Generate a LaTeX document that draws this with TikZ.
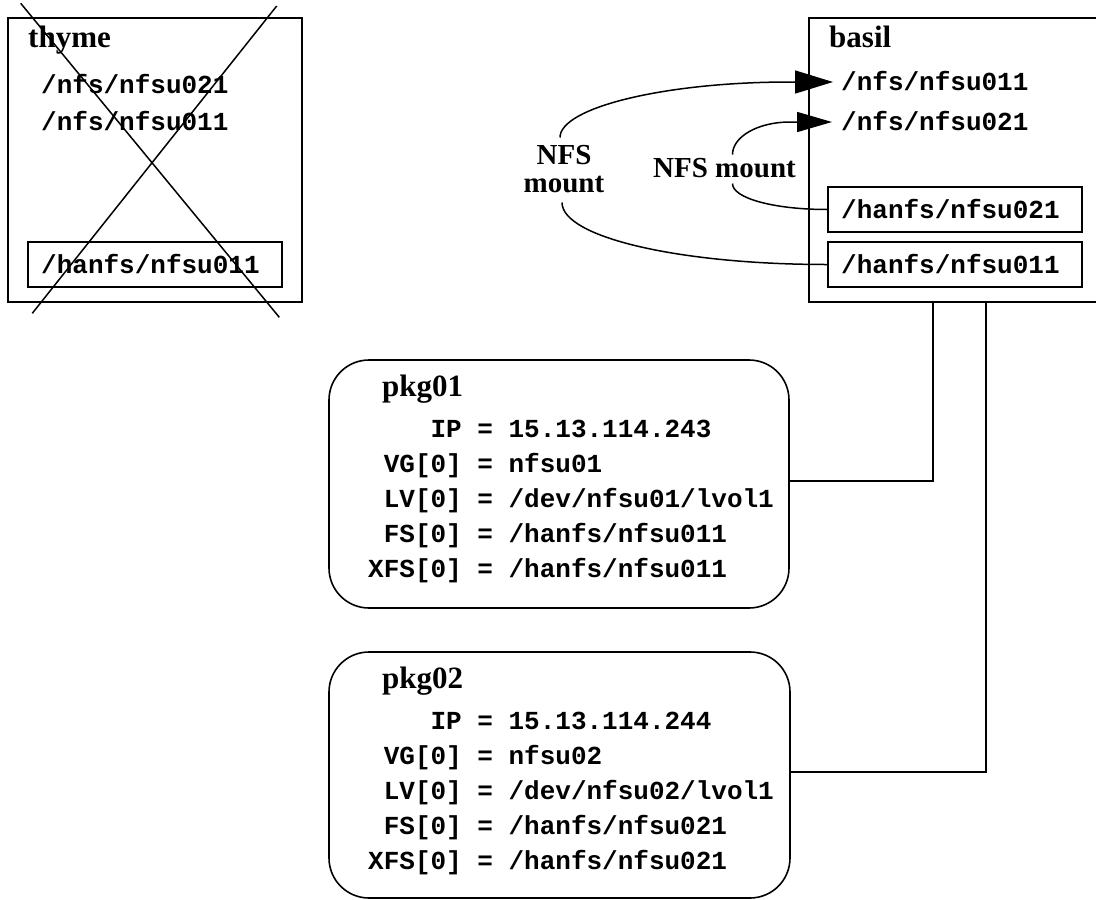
\documentclass[tikz,border=0pt]{standalone}
\usepackage{fontspec}
\setmainfont{Liberation Serif}
\newfontfamily\monofont{Liberation Mono}
\usetikzlibrary{arrows.meta}
\begin{document}
\begin{tikzpicture}[x=1pt,y=-1pt,
  frame/.style={draw=black,line width=1.6pt,inner sep=0pt},
  title/.style={font=\fontsize{31}{31}\selectfont\bfseries,inner sep=0pt,anchor=base west},
  mpath/.style={font=\fontsize{26}{26}\selectfont\monofont\bfseries,inner sep=0pt,anchor=base west},
  lbl/.style={font=\fontsize{29}{28}\selectfont\bfseries,inner sep=0pt,align=center},
  link/.style={line width=1.5pt},
  mntA/.style={line width=1.5pt,-{Triangle[length=38pt,width=23pt]}},
  mntB/.style={line width=1.5pt,-{Triangle[length=35pt,width=20pt]}}]
\useasboundingbox (0,0) rectangle (1096,900);

% thyme (failed host)
\node[frame,minimum width=294pt,minimum height=284pt] (thyme) at (155,160) {};
\node[title] (thymet) at (28,47) {thyme};
\node[mpath] (t1) at (41,93) {/nfs/nfsu021};
\node[mpath] (t2) at (41,130) {/nfs/nfsu011};
\node[frame,minimum width=254pt,minimum height=45pt] (th11) at (155,264.5) {};
\node[mpath] (t3) at (41,273) {/hanfs/nfsu011};
\draw[link] (20.7,3.3) -- (279.3,317.3);
\draw[link] (276.7,6) -- (32.3,313.3);

% basil
\node[frame,minimum width=292pt,minimum height=284pt] (basil) at (955,160) {};
\node[title] (basilt) at (829,47) {basil};
\node[mpath] (b1) at (841,90) {/nfs/nfsu011};
\node[mpath] (b2) at (841,130) {/nfs/nfsu021};
\node[frame,minimum width=254pt,minimum height=45pt] (h21) at (955,209.5) {};
\node[mpath] (b3) at (841,218) {/hanfs/nfsu021};
\node[frame,minimum width=254pt,minimum height=45pt] (h11) at (955,264.5) {};
\node[mpath] (b4) at (841,273) {/hanfs/nfsu011};

% NFS mount labels
\node[lbl] (m1) at (564,169.5) {NFS\\mount};
\node[lbl,anchor=base] (m2) at (724.5,177) {NFS mount};

% mount connectors
\draw[mntA] ([xshift=-4pt,yshift=8pt]m1.north) .. controls +(0,-30) and +(-125,0) .. ([xshift=-51pt,yshift=8pt]b1.base west) -- ([xshift=-8pt,yshift=8pt]b1.base west);
\draw[link] ([xshift=-2pt,yshift=-9pt]m1.south) .. controls +(0,35) and +(-147,0) .. (h11.west);
\draw[mntB] ([xshift=8pt,yshift=3pt]m2.north) .. controls +(0,-18) and +(-32,0) .. ([xshift=-51pt,yshift=8pt]b2.base west) -- ([xshift=-9pt,yshift=8pt]b2.base west);
\draw[link] ([xshift=8pt,yshift=-6pt]m2.south) .. controls +(0,15) and +(-52,0) .. (h21.west);

% packages
\node[frame,rounded corners=40pt,minimum width=460pt,minimum height=248pt] (pkg1) at (559,484) {};
\node[title] (p1t) at (382,396) {pkg01};
\node[mpath] (p1a) at (368,437) {\phantom{XXXX}IP = 15.13.114.243};
\node[mpath] (p1b) at (368,472) {\phantom{X}VG[0] = nfsu01};
\node[mpath] (p1c) at (368,507) {\phantom{X}LV[0] = /dev/nfsu01/lvol1};
\node[mpath] (p1d) at (368,542) {\phantom{X}FS[0] = /hanfs/nfsu011};
\node[mpath] (p1e) at (368,577) {XFS[0] = /hanfs/nfsu011};

\node[frame,rounded corners=40pt,minimum width=461pt,minimum height=246pt] (pkg2) at (559.5,775) {};
\node[title] (p2t) at (382,688) {pkg02};
\node[mpath] (p2a) at (368,729) {\phantom{XXXX}IP = 15.13.114.244};
\node[mpath] (p2b) at (368,764) {\phantom{X}VG[0] = nfsu02};
\node[mpath] (p2c) at (368,799) {\phantom{X}LV[0] = /dev/nfsu02/lvol1};
\node[mpath] (p2d) at (368,834) {\phantom{X}FS[0] = /hanfs/nfsu021};
\node[mpath] (p2e) at (368,869) {XFS[0] = /hanfs/nfsu021};

% package-to-host connectors
\coordinate (x1) at (933,0);
\coordinate (x2) at (986,0);
\draw[link] ([yshift=3pt]pkg1.east) -| (basil.south -| x1);
\draw[link] ([yshift=3pt]pkg2.east) -| (basil.south -| x2);
\end{tikzpicture}
\end{document}
